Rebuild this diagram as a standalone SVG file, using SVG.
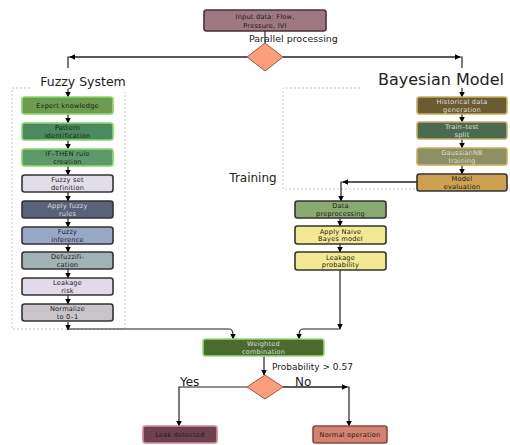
<svg xmlns="http://www.w3.org/2000/svg" width="510" height="445" viewBox="0 0 510 445">
<defs>
<marker id="ah" viewBox="0 0 10 10" refX="9" refY="5" markerWidth="5.5" markerHeight="5.5" orient="auto-start-reverse" markerUnits="userSpaceOnUse">
<path d="M0,0 L10,5 L0,10 z" fill="#000"/>
</marker>
<style>
.n{stroke-width:1.6;rx:2.5}
.t{font-family:"DejaVu Sans",sans-serif;font-size:6.6px;letter-spacing:0.2px;text-anchor:middle;fill:#1a1a1a}
.tl{fill:#dcdcdc}
.c{fill:none;stroke:#222;stroke-width:1.2}
.cl{fill:none;stroke:#c8c8c8;stroke-width:1;stroke-dasharray:2,2}
.lbl{font-family:"DejaVu Sans",sans-serif;fill:#222}
.dm{fill:#fb9e7a;stroke:#9a5a40;stroke-width:1}
</style>
</defs>
<rect width="510" height="445" fill="#fff"/>

<g id="clusters">
<path class="cl" d="M30,88 H12 V329 H125 V92"/>
<path class="cl" d="M360,88 H283 V189 H510"/>
</g>

<g id="labels">
<text class="lbl" x="83" y="86" font-size="12.5" text-anchor="middle">Fuzzy System</text>
<text class="lbl" x="441" y="85" font-size="16" text-anchor="middle">Bayesian Model</text>
<text class="lbl" x="253" y="182" font-size="12" text-anchor="middle">Training</text>
<text class="lbl" x="249" y="42" font-size="9.5">Parallel processing</text>
<text class="lbl" x="272" y="370" font-size="9">Probability &gt; 0.57</text>
<text class="lbl" x="180" y="386" font-size="12">Yes</text>
<text class="lbl" x="295" y="386" font-size="12">No</text>
</g>

<g id="connectors">
<path class="c" d="M265,31 V43"/>
<path class="c" d="M247,57 H68 V68"/>
<path class="c" d="M283,57 H462 V68"/>
<path class="c" d="M247,57 H70" marker-end="url(#ah)"/>
<path class="c" d="M283,57 H460" marker-end="url(#ah)"/>
<path class="c" d="M68,89 V97" marker-end="url(#ah)"/>
<path class="c" d="M462,88 V97" marker-end="url(#ah)"/>
<path class="c" d="M68,114 V123" marker-end="url(#ah)"/>
<path class="c" d="M68,140 V149" marker-end="url(#ah)"/>
<path class="c" d="M68,166 V175" marker-end="url(#ah)"/>
<path class="c" d="M68,192 V201" marker-end="url(#ah)"/>
<path class="c" d="M68,218 V227" marker-end="url(#ah)"/>
<path class="c" d="M68,244 V252" marker-end="url(#ah)"/>
<path class="c" d="M68,269 V278" marker-end="url(#ah)"/>
<path class="c" d="M68,295 V304" marker-end="url(#ah)"/>
<path class="c" d="M462,114 V122" marker-end="url(#ah)"/>
<path class="c" d="M462,139 V148" marker-end="url(#ah)"/>
<path class="c" d="M462,165 V174" marker-end="url(#ah)"/>
<path class="c" d="M417,182 H341 V201" marker-end="url(#ah)"/>
<path class="c" d="M417,182 H343" marker-end="url(#ah)"/>
<path class="c" d="M340,218 V226" marker-end="url(#ah)"/>
<path class="c" d="M340,244 V252" marker-end="url(#ah)"/>
<path class="c" d="M340,270 V329" marker-end="url(#ah)"/>
<path class="c" d="M340,329 H303 Q299,329 299,335 V339" marker-end="url(#ah)"/>
<path class="c" d="M68,322 V330" marker-end="url(#ah)"/>
<path class="c" d="M68,329 H229 Q233,329 233,335 V339" marker-end="url(#ah)"/>
<path class="c" d="M264,356 V375" marker-end="url(#ah)"/>
<path class="c" d="M247,387 H179 V426" marker-end="url(#ah)"/>
<path class="c" d="M283,387 H349 V426" marker-end="url(#ah)"/>
<path class="c" d="M283,387 H347" marker-end="url(#ah)"/>
</g>

<g id="n-input"><rect class="n" x="204" y="10" width="122" height="21" fill="#a07882" stroke="#4a3038"/>
<text class="t" x="265" y="19" font-size="7.5">Input data: Flow,</text><text class="t" x="265" y="28" font-size="7.5">Pressure, IVI</text></g>
<g id="d-parallel"><path class="dm" d="M265,43 L283,57 L265,71 L247,57 z"/></g>

<g id="n-expert"><rect class="n" x="22" y="97" width="91" height="17" fill="#6c9c4e" stroke="#8ed86a"/>
<text class="t" x="67.5" y="108">Expert knowledge</text></g>
<g id="n-pattern"><rect class="n" x="22" y="123" width="91" height="17" fill="#4b8a5e" stroke="#8ed86a"/>
<text class="t" x="67.5" y="130">Pattern</text><text class="t" x="67.5" y="137.5">identification</text></g>
<g id="n-ifthen"><rect class="n" x="22" y="149" width="91" height="17" fill="#5c9a6a" stroke="#8ed86a"/>
<text class="t" x="67.5" y="156">IF–THEN rule</text><text class="t" x="67.5" y="163.5">creation</text></g>
<g id="n-fuzzyset"><rect class="n" x="22" y="175" width="91" height="17" fill="#e2dee9" stroke="#333"/>
<text class="t" x="67.5" y="182">Fuzzy set</text><text class="t" x="67.5" y="189.5">definition</text></g>
<g id="n-applyfuzzy"><rect class="n" x="22" y="201" width="91" height="17" fill="#5a6279" stroke="#333"/>
<text class="t tl" x="67.5" y="208">Apply fuzzy</text><text class="t tl" x="67.5" y="215.5">rules</text></g>
<g id="n-inference"><rect class="n" x="22" y="227" width="91" height="17" fill="#9aa8c8" stroke="#333"/>
<text class="t" x="67.5" y="234">Fuzzy</text><text class="t" x="67.5" y="241.5">inference</text></g>
<g id="n-defuzz"><rect class="n" x="22" y="252" width="91" height="17" fill="#a2b2b4" stroke="#333"/>
<text class="t" x="67.5" y="259">Defuzzifi-</text><text class="t" x="67.5" y="266.5">cation</text></g>
<g id="n-risk"><rect class="n" x="22" y="278" width="91" height="17" fill="#e2dae9" stroke="#333"/>
<text class="t" x="67.5" y="285">Leakage</text><text class="t" x="67.5" y="292.5">risk</text></g>
<g id="n-normalize"><rect class="n" x="22" y="304" width="91" height="17" fill="#c8c4ca" stroke="#333"/>
<text class="t" x="67.5" y="311">Normalize</text><text class="t" x="67.5" y="318.5">to 0–1</text></g>

<g id="n-historical"><rect class="n" x="417" y="97" width="90" height="17" fill="#6b5a32" stroke="#c8b060"/>
<text class="t tl" x="462" y="104">Historical data</text><text class="t tl" x="462" y="111.5">generation</text></g>
<g id="n-split"><rect class="n" x="417" y="122" width="90" height="17" fill="#4c6a50" stroke="#c8b060"/>
<text class="t tl" x="462" y="129">Train–test</text><text class="t tl" x="462" y="136.5">split</text></g>
<g id="n-gnb"><rect class="n" x="417" y="148" width="90" height="17" fill="#8c9062" stroke="#c8b060"/>
<text class="t tl" x="462" y="155">GaussianNB</text><text class="t tl" x="462" y="162.5">training</text></g>
<g id="n-eval"><rect class="n" x="417" y="174" width="90" height="17" fill="#cca252" stroke="#333"/>
<text class="t" x="462" y="181">Model</text><text class="t" x="462" y="188.5">evaluation</text></g>

<g id="n-prep"><rect class="n" x="295" y="201" width="91" height="17" fill="#8aaa72" stroke="#333"/>
<text class="t" x="340.5" y="208">Data</text><text class="t" x="340.5" y="215.5">preprocessing</text></g>
<g id="n-applynb"><rect class="n" x="295" y="226" width="91" height="18" fill="#f2ea92" stroke="#333"/>
<text class="t" x="340.5" y="233.5">Apply Naive</text><text class="t" x="340.5" y="241">Bayes model</text></g>
<g id="n-prob"><rect class="n" x="295" y="252" width="91" height="18" fill="#f2ea92" stroke="#333"/>
<text class="t" x="340.5" y="259.5">Leakage</text><text class="t" x="340.5" y="267">probability</text></g>

<g id="n-weighted"><rect class="n" x="203" y="339" width="121" height="17" fill="#4b6a30" stroke="#90e070"/>
<text class="t tl" x="263.5" y="346">Weighted</text><text class="t tl" x="263.5" y="353.5">combination</text></g>
<g id="d-threshold"><path class="dm" d="M265,375 L283,387 L265,399 L247,387 z"/></g>

<g id="n-leak"><rect class="n" x="143" y="426" width="74" height="17" fill="#704050" stroke="#d48a96"/>
<text class="t" x="180" y="437">Leak detected</text></g>
<g id="n-normal"><rect class="n" x="313" y="426" width="74" height="17" fill="#d4826f" stroke="#8a4a44"/>
<text class="t" x="350" y="437">Normal operation</text></g>
</svg>
